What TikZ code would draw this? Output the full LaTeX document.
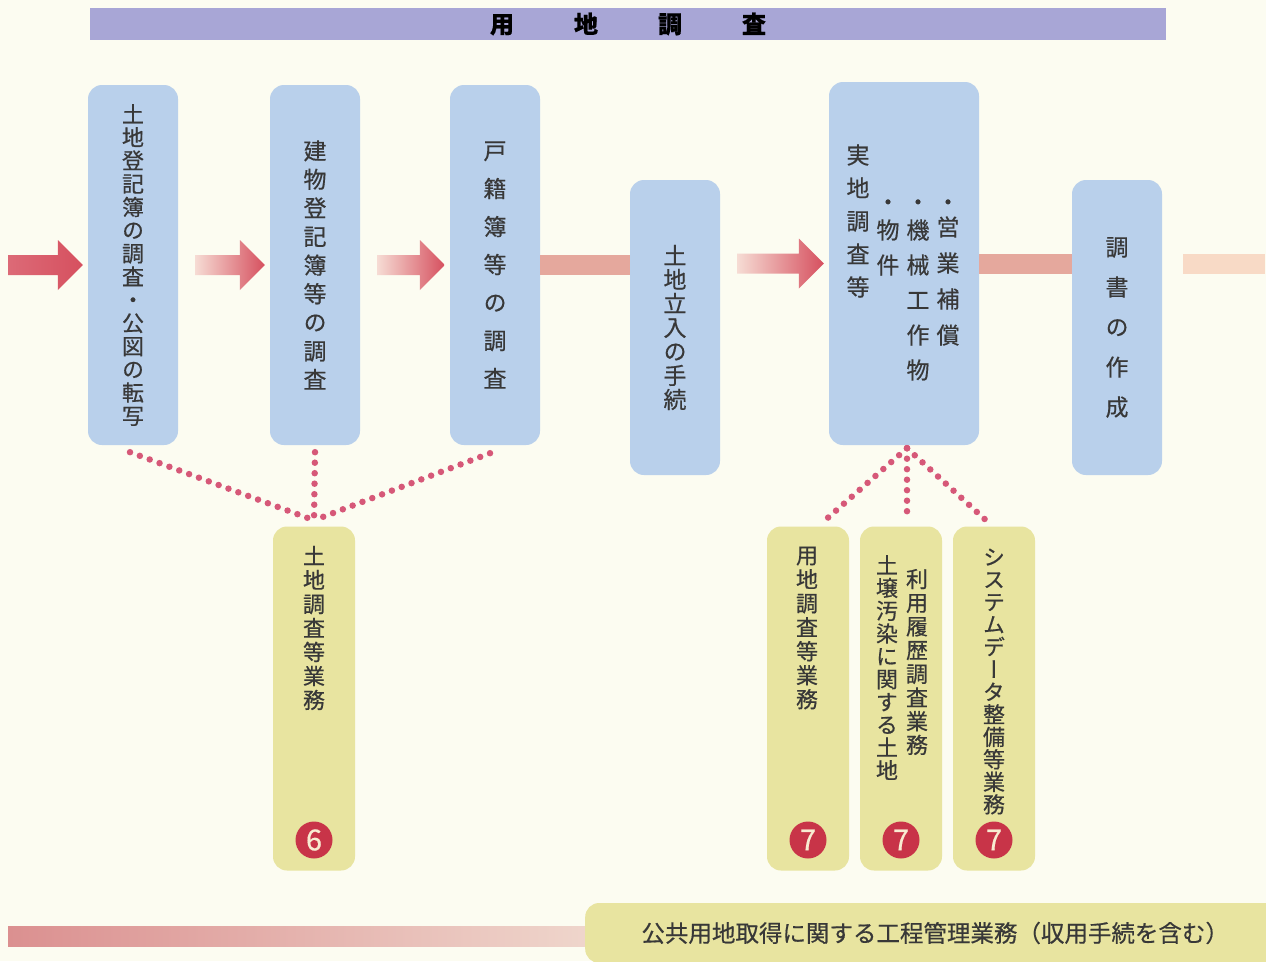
\documentclass[tikz,border=0pt]{standalone}
\usepackage{fontspec}
\newfontfamily\jp[FakeBold=0.5]{Noto Sans CJK JP}
\newfontfamily\jpv[RawFeature=+vert, FakeBold=0.5]{Noto Sans CJK JP}
\usetikzlibrary{calc}

\definecolor{bgcream}{HTML}{FCFCF1}
\definecolor{boxblue}{HTML}{B9D0EB}
\definecolor{boxyellow}{HTML}{E8E4A0}
\definecolor{headlav}{HTML}{A8A6D6}
\definecolor{arrowred}{HTML}{D6505F}
\definecolor{arrowlight}{HTML}{F6DCD4}
\definecolor{bandred}{HTML}{E5A89D}
\definecolor{bandfade}{HTML}{F8DAC6}
\definecolor{dotpink}{HTML}{D65878}
\definecolor{circred}{HTML}{C83448}
\definecolor{circtext}{HTML}{F8ECD2}
\definecolor{textgray}{HTML}{383838}
\definecolor{botred}{HTML}{DB9090}
\definecolor{botpale}{HTML}{EFD6CC}

\begin{document}
\begin{tikzpicture}[
      x=1pt, y=-1pt,
      stepbox/.style={rectangle, rounded corners=14pt, fill=boxblue, minimum width=90pt,
                      inner sep=0pt, align=center, text=textgray},
      taskbox/.style={rectangle, rounded corners=14pt, fill=boxyellow,
                      minimum width=82pt, minimum height=344pt},
      vtext/.style={align=center, inner sep=0pt, text=textgray},
      numcirc/.style={circle, fill=circred, minimum size=37pt, inner sep=0pt,
                      text=circtext, font=\jp\fontsize{29}{29}\selectfont},
      dotline/.style={draw=dotpink, line width=6.5pt, line cap=round,
                      dash pattern=on 0pt off 10.5pt},
      flowarrow/.style={left color=arrowlight, right color=arrowred},
      band/.style={fill=bandred}
    ]
    \useasboundingbox (0,0) rectangle (1266,961);
    \fill[bgcream] (0,0) rectangle (1266,961);

    \node[fill=headlav, minimum width=1076pt, minimum height=32pt, inner sep=0pt,
          font=\jp\bfseries\fontsize{24}{24}\selectfont, text=black] (title) at (628,24)
          {用\hspace{60pt}地\hspace{60pt}調\hspace{60pt}査};

    % survey steps
    \node[stepbox, minimum height=360pt, font=\jpv\fontsize{22}{23.2}\selectfont] (b1) at (133,265)
          {土\\地\\登\\記\\簿\\の\\調\\査\\・\\公\\図\\の\\転\\写};
    \node[stepbox, minimum height=360pt, font=\jpv\fontsize{23}{28.6}\selectfont] (b2) at (315,265)
          {建\\物\\登\\記\\簿\\等\\の\\調\\査};
    \node[stepbox, minimum height=360pt, font=\jpv\fontsize{23}{38}\selectfont] (b3) at (495,265)
          {戸\\籍\\簿\\等\\の\\調\\査};
    \node[stepbox, minimum height=295pt, font=\jpv\fontsize{23}{24}\selectfont] (b4) at (675,327.5)
          {土\\地\\立\\入\\の\\手\\続};
    \node[stepbox, minimum width=150pt, minimum height=363pt] (b5) at (904,263.5) {};
    \node[stepbox, minimum height=295pt, font=\jpv\fontsize{23}{40}\selectfont] (b6) at (1117,327.5)
          {調\\書\\の\\作\\成};

    \node[vtext, font=\jpv\fontsize{23}{33}\selectfont] (b5a) at (858,221) {実\\地\\調\\査\\等};
    \node[vtext, font=\jpv\fontsize{23}{35}\selectfont] (b5b) at (888,247.5) {物\\件};
    \node[vtext, font=\jpv\fontsize{23}{35}\selectfont] (b5c) at (918,300) {機\\械\\工\\作\\物};
    \node[vtext, font=\jpv\fontsize{23}{36}\selectfont] (b5d) at (948,281) {営\\業\\補\\償};
    \foreach \col in {b5b, b5c, b5d}
      \node[vtext, font=\jpv\fontsize{23}{23}\selectfont] at (\col.center |- 0,205) {・};

    % flow line
    \coordinate (in) at (8,265);
    \coordinate (out) at (1265,264);
    \shade[left color=arrowred!85!white, right color=arrowred]
          ($(in)+(0,-10)$) -- ($(b1.west)+(-30,-10)$) -- ($(b1.west)+(-30,-25)$) -- ($(b1.west)+(-5,0)$)
          -- ($(b1.west)+(-30,25)$) -- ($(b1.west)+(-30,10)$) -- ($(in)+(0,10)$) -- cycle;
    \foreach \from/\to in {b1/b2, b2/b3, b4/b5}
      \shade[flowarrow] ($(\from.east |- \to.west)+(17,-10)$) -- ($(\to.west)+(-30,-10)$)
          -- ($(\to.west)+(-30,-25)$) -- ($(\to.west)+(-5,0)$) -- ($(\to.west)+(-30,25)$)
          -- ($(\to.west)+(-30,10)$) -- ($(\from.east |- \to.west)+(17,10)$) -- cycle;
    \fill[band] ($(b3.east)+(0,-10)$) rectangle ($(b4.west |- b3.east)+(0,10)$);
    \fill[band] ($(b5.east)+(0,-10)$) rectangle ($(b6.west |- b5.east)+(0,10)$);
    \fill[fill=bandfade] ($(b6.east |- out)+(21,-10)$) rectangle ($(out)+(0,10)$);

    % tasks
    \node[taskbox] (y1) at (314,698.5) {};
    \node[taskbox] (y2) at (808,698.5) {};
    \node[taskbox] (y3) at (901,698.5) {};
    \node[taskbox] (y4) at (994,698.5) {};

    \node[vtext, font=\jpv\fontsize{22}{24}\selectfont] (t1) at (314,628) {土\\地\\調\\査\\等\\業\\務};
    \node[vtext, font=\jpv\fontsize{22}{24}\selectfont] (t2) at (807,628) {用\\地\\調\\査\\等\\業\\務};
    \node[vtext, font=\jpv\fontsize{22}{23.7}\selectfont] (t3a) at (917,662) {利\\用\\履\\歴\\調\\査\\業\\務};
    \node[vtext, font=\jpv\fontsize{22}{22.8}\selectfont] (t3b) at (887,667.5) {土\\壌\\汚\\染\\に\\関\\す\\る\\土\\地};
    \node[vtext, font=\jpv\fontsize{22}{22.5}\selectfont] (t4) at (994,681.5) {シ\\ス\\テ\\ム\\デ\\ー\\タ\\整\\備\\等\\業\\務};

    \node[numcirc] (n1) at (314,840) {6};
    \node[numcirc] (n2) at (808,840) {7};
    \node[numcirc] (n3) at (901,840) {7};
    \node[numcirc] (n4) at (994,840) {7};

    % dotted links
    \coordinate (j1) at ($(y1.north)+(0,-6)$);
    \draw[dotline] ($(b1.south)+(-3,7)$) -- (j1);
    \draw[dotline] ($(b2.south)+(0,7)$) -- (j1);
    \draw[dotline] ($(b3.south)+(-5,8)$) -- (j1);
    \draw[dotline] ($(b5.south)+(3,3)$) -- ($(y2.north)+(17,-6)$);
    \draw[dotline] ($(b5.south)+(3,3)$) -- ($(y3.north)+(6,-5)$);
    \draw[dotline] ($(b5.south)+(3,3)$) -- ($(y4.north)+(-8,-6)$);

    % bottom bar
    \shade[left color=botred, right color=botpale] (8,926) rectangle (592,946);
    \node[fill=boxyellow, rounded corners=14pt, anchor=west, minimum width=700pt, minimum height=60pt,
          inner sep=0pt, text=textgray, font=\jp\fontsize{23.5}{23.5}\selectfont] (mgmt) at (585,933)
          {公共用地取得に関する工程管理業務（収用手続を含む）};
\end{tikzpicture}
\end{document}
